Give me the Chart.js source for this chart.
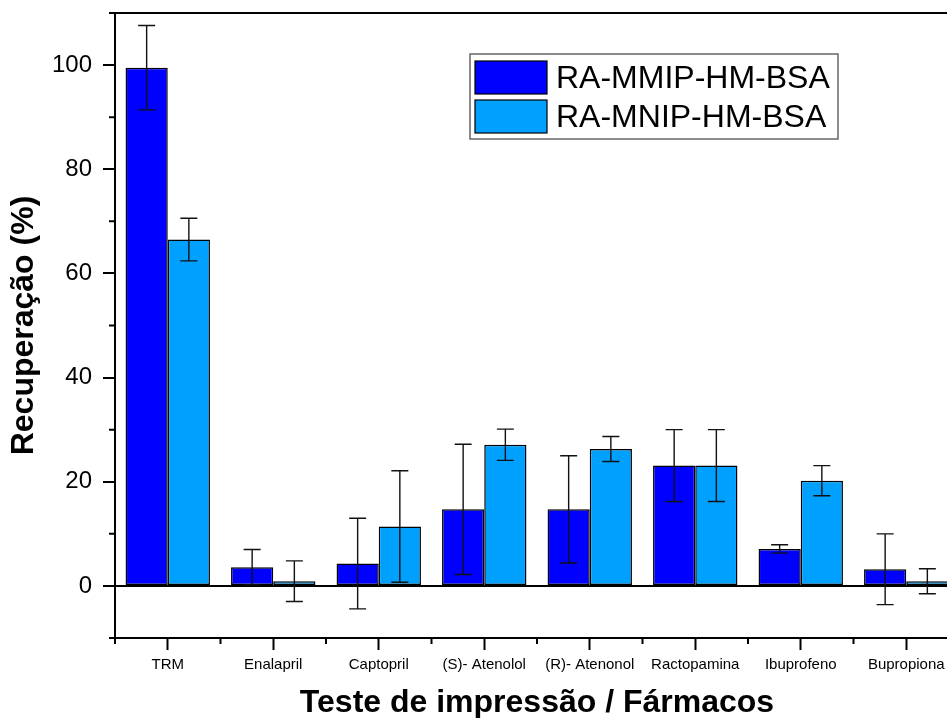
<!DOCTYPE html>
<html>
<head>
<meta charset="utf-8">
<script src="https://cdn.jsdelivr.net/npm/chart.js@4"></script>
<style>
  html, body { margin: 0; padding: 0; background: #fff; overflow: hidden; }
  #wrap { width: 975px; height: 718px; }
</style>
</head>
<body>
<div id="wrap"><canvas id="recovery" width="975" height="718"></canvas></div>
<script>

const categories = [
    "TRM",
    "Enalapril",
    "Captopril",
    "(S)- Atenolol",
    "(R)- Atenonol",
    "Ractopamina",
    "Ibuprofeno",
    "Bupropiona"
];

const mmipValues = [99.5, 3.6, 4.3, 14.7, 14.7, 23.1, 7.1, 3.2];
const mmipErrors = [8.1, 3.4, 8.7, 12.5, 10.3, 6.9, 0.8, 6.8];

const mnipValues = [66.5, 0.9, 11.4, 27.1, 26.3, 23.1, 20.2, 0.9];
const mnipErrors = [4.1, 3.9, 10.7, 3.0, 2.4, 6.9, 2.9, 2.4];

const yMajorTicks = [0, 20, 40, 60, 80, 100];
const yMinorTicks = [-10, 10, 30, 50, 70, 90, 110];

const FONT = "'Liberation Sans', Arial, sans-serif";


// error bars, frame, minor ticks and the boxed legend
const extras = {

    id: "extras",

    afterDatasetsDraw(chart) {

        const ctx = chart.ctx;
        const y = chart.scales.y;

        ctx.save();
        ctx.strokeStyle = "#111";
        ctx.lineWidth = 1.4;

        chart.data.datasets.forEach((ds, i) => {
            const meta = chart.getDatasetMeta(i);
            meta.data.forEach((bar, j) => {
                const v = ds.data[j];
                const e = ds.errors[j];
                const top = y.getPixelForValue(v + e);
                const bot = y.getPixelForValue(v - e);
                const half = 8.5;
                ctx.beginPath();
                ctx.moveTo(bar.x, top);
                ctx.lineTo(bar.x, bot);
                ctx.moveTo(bar.x - half, top);
                ctx.lineTo(bar.x + half, top);
                ctx.moveTo(bar.x - half, bot);
                ctx.lineTo(bar.x + half, bot);
                ctx.stroke();
            });
        });

        ctx.restore();
    },

    afterDraw(chart) {

        const ctx = chart.ctx;
        const area = chart.chartArea;
        const y = chart.scales.y;

        ctx.save();
        ctx.strokeStyle = "#000";
        ctx.lineWidth = 2;

        // top and right edges of the frame
        ctx.beginPath();
        ctx.moveTo(area.left, area.top);
        ctx.lineTo(area.right, area.top);
        ctx.lineTo(area.right, area.bottom);
        ctx.stroke();

        // minor ticks on the y axis
        ctx.beginPath();
        yMinorTicks.forEach(v => {
            const py = y.getPixelForValue(v);
            ctx.moveTo(area.left - 6, py);
            ctx.lineTo(area.left, py);
        });

        // minor ticks between categories
        const step = (area.right - area.left) / categories.length;
        for (let k = 0; k <= categories.length; k++) {
            const px = area.left + k * step;
            ctx.moveTo(px, area.bottom);
            ctx.lineTo(px, area.bottom + 6);
        }
        ctx.stroke();

        // legend box
        const lx = 470, ly = 54, lw = 368, lh = 85;
        ctx.lineWidth = 1.5;
        ctx.strokeStyle = "#666";
        ctx.strokeRect(lx, ly, lw, lh);

        ctx.font = "32px " + FONT;
        ctx.textBaseline = "middle";
        ctx.textAlign = "left";

        chart.data.datasets.forEach((ds, i) => {
            const sy = ly + 7 + i * 39;
            ctx.fillStyle = ds.backgroundColor;
            ctx.fillRect(lx + 5, sy, 72, 33);
            ctx.lineWidth = 1.2;
            ctx.strokeStyle = "#000";
            ctx.strokeRect(lx + 5, sy, 72, 33);
            ctx.fillStyle = "#000";
            ctx.fillText(ds.label, lx + 86, sy + 18);
        });

        ctx.restore();
    }
};


new Chart(document.getElementById("recovery").getContext("2d"), {

    type: "bar",

    data: {

        labels: categories,

        datasets: [
            {
                label: "RA-MMIP-HM-BSA",
                data: mmipValues,
                errors: mmipErrors,
                backgroundColor: "#0000FF",
                borderColor: "#000",
                borderWidth: 1.5,
                borderSkipped: false
            },
            {
                label: "RA-MNIP-HM-BSA",
                data: mnipValues,
                errors: mnipErrors,
                backgroundColor: "#00A0FF",
                borderColor: "#000",
                borderWidth: 1.5,
                borderSkipped: false
            }
        ]
    },

    options: {

        responsive: false,
        animation: false,
        devicePixelRatio: 1,

        barPercentage: 1,
        categoryPercentage: 0.8,

        layout: {
            autoPadding: false,
            padding: { left: 0, top: 13, right: 16, bottom: 0 }
        },

        scales: {

            x: {
                afterFit(scale) {
                    scale.height = 80;
                    scale.paddingLeft = 0;
                    scale.paddingRight = 0;
                },
                grid: {
                    offset: false,
                    drawOnChartArea: false,
                    tickLength: 12,
                    tickWidth: 2,
                    tickColor: "#000"
                },
                border: { color: "#000", width: 2 },
                ticks: {
                    color: "#000",
                    padding: 6,
                    maxRotation: 0,
                    autoSkip: false,
                    font: { family: FONT, size: 15 }
                },
                title: {
                    display: true,
                    text: "Teste de impressão / Fármacos",
                    color: "#000",
                    padding: 0,
                    font: { family: FONT, size: 32, weight: "bold", lineHeight: 0.9 }
                }
            },

            y: {
                min: -10,
                max: 110,
                afterFit(scale) {
                    scale.width = 115;
                    scale.paddingTop = 0;
                    scale.paddingBottom = 0;
                },
                ticks: {
                    stepSize: 10,
                    color: "#000",
                    padding: 11,
                    font: { family: FONT, size: 24 },
                    callback: v => yMajorTicks.includes(v) ? v : ""
                },
                grid: {
                    lineWidth: 2,
                    tickLength: 12,
                    color: c => (c.tick && c.tick.value === 0) ? "#000" : "transparent",
                    tickColor: c => yMajorTicks.includes(c.tick.value) ? "#000" : "transparent"
                },
                border: { color: "#000", width: 2 },
                title: {
                    display: true,
                    text: "Recuperação (%)",
                    color: "#000",
                    padding: { top: 8, bottom: 0 },
                    font: { family: FONT, size: 32, weight: "bold", lineHeight: 1 }
                }
            }
        },

        plugins: {
            legend: { display: false },
            tooltip: { enabled: false }
        }
    },

    plugins: [extras]
});

</script>
</body>
</html>
